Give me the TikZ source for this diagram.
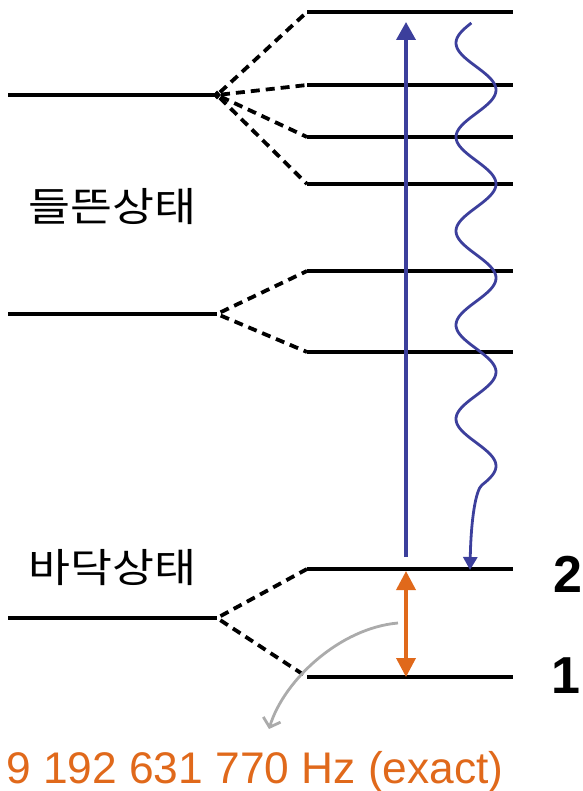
\documentclass[tikz,border=0pt]{standalone}
\usepackage{fontspec}
\usepackage{graphicx}
\setmainfont{Liberation Sans}
\newfontfamily\krfont{Noto Sans CJK KR}
\usetikzlibrary{arrows.meta}
\definecolor{bluearrow}{HTML}{3C3F9C}
\definecolor{orangearrow}{HTML}{E0691B}
\definecolor{grayarrow}{HTML}{ABABAB}
\begin{document}
\begin{tikzpicture}[x=1pt,y=-1pt,
  level/.style={line width=4pt},
  split/.style={line width=3.8pt, dash pattern=on 9pt off 6pt, dash phase=-4pt},
  krlabel/.style={anchor=base west, inner sep=0pt, font=\krfont\fontsize{40}{48}\selectfont},
  numlabel/.style={anchor=base west, inner sep=0pt, font=\bfseries\fontsize{52}{60}\selectfont}]
\useasboundingbox (0,0) rectangle (582,791);
% right-hand levels
\foreach \n/\y in {a/12,b/85,c/137,d/184,e/271,f/352,g/569,h/677}{
  \coordinate (\n L) at (307,\y);
  \coordinate (\n R) at (513,\y);
  \draw[level] (\n L) -- (\n R);
}
% left-hand levels
\foreach \n/\y in {p/95,q/314,r/618}{
  \coordinate (\n L) at (8,\y);
  \coordinate (\n J) at (217,\y);
  \draw[level] (\n L) -- (\n J);
}
\fill (pJ) +(-4pt,0) -- +(0,-4.5pt) -- +(4pt,0) -- +(0,4.5pt) -- cycle;
% splittings
\foreach \t in {a,b,c,d}{ \draw[split] (pJ) -- (\t L); }
\foreach \t in {e,f}{ \draw[split] (qJ) -- (\t L); }
\foreach \t in {g,h}{ \draw[split] (rJ) -- (\t L); }
% blue excitation arrow
\coordinate (bb) at (406,557);
\coordinate (bt) at (406,22);
\draw[bluearrow, line width=3.6pt, -{Triangle[width=19pt,length=18pt]}] (bb) -- (bt);
% wavy emission
\coordinate (wend) at (470,570);
\draw[bluearrow, line width=2.8pt, -{Triangle[width=14pt,length=13pt]}]
  plot[domain=23:485, samples=240, variable=\t] ({476+20*sin(3.829787*(\t-66.5))}, \t)
  .. controls (475.6,490) and (471,520) .. (wend);
% orange clock transition
\coordinate (ot) at (406,571);
\coordinate (ob) at (406,677);
\draw[orangearrow, line width=3.6pt, {Triangle[width=19pt,length=19pt]}-{Triangle[width=19pt,length=19pt]}] (ot) -- (ob);
% gray pointer
\coordinate (gs) at (398,623);
\coordinate (ge) at (269,729);
\draw[grayarrow, line width=2.8pt, -{Straight Barb[length=8pt,width=18pt]}] (gs) .. controls (340,628) and (284,680) .. (ge);
% labels
\node[krlabel] (exc) at (28,222) {\scalebox{1.14}[1]{들뜬상태}};
\node[krlabel] (gnd) at (28,582) {\scalebox{1.14}[1]{바닥상태}};
\node[numlabel] (n2) at (553,592) {2};
\node[numlabel] (n1) at (551,693) {1};
\node[anchor=base west, inner sep=0pt, text=orangearrow, font=\fontsize{44.3}{54}\selectfont] (freq) at (6,783) {9 192 631 770 Hz (exact)};
\end{tikzpicture}
\end{document}
